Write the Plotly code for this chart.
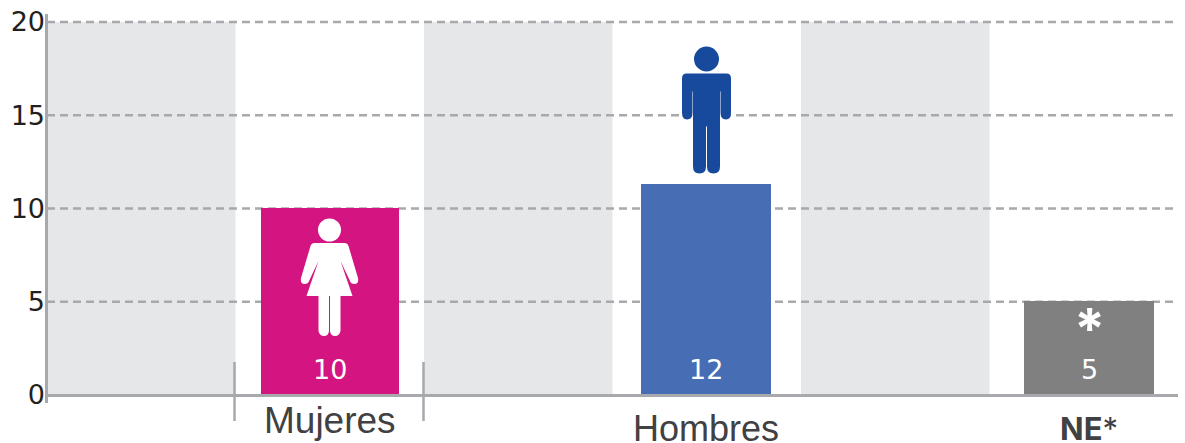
import plotly.graph_objects as go

categories = ["Mujeres", "Hombres", "NE*"]
values = [10.05, 11.3, 5.05]
value_labels = ["10", "12", "5"]
colors = ["#D41481", "#476DB5", "#808080"]
slots = [1, 3, 5]
band_slots = [0, 2, 4]
y_ticks = [0, 5, 10, 15, 20]

GREY = "#A7A9AC"
W, H = 1185, 443
ML, MR, MT, MB = 47, 7, 16, 48
Y_TOP = (H - MB - MT) / 18.65
SLOT = (W - ML - MR) / 6
bar_px = [138, 130, 130]
shift_px = [0, -1, 5.5]
widths = [b / SLOT for b in bar_px]
offsets = [(-b / 2 + s) / SLOT for b, s in zip(bar_px, shift_px)]

fig = go.Figure(go.Bar(
    x=slots, y=values, width=widths, offset=offsets,
    marker=dict(color=colors, line=dict(width=0)), hoverinfo="skip",
))

shapes = []
for s in band_slots:
    shapes.append(dict(type="rect", xref="x", yref="y", x0=s - 0.5, x1=s + 0.5, y0=0, y1=20,
                       fillcolor="#E6E7E8", line=dict(width=0), layer="between"))
for t in y_ticks[1:]:
    shapes.append(dict(type="line", xref="x", yref="y", x0=-0.5, x1=5.5, y0=t, y1=t,
                       line=dict(color=GREY, width=2.5, dash="8px,5px"), layer="between"))


def px_x(x):
    return (x - ML) / (W - ML - MR)


def px_y(y):
    return 1 - (y - MT) / (H - MT - MB)


def line_px(x0, y0, x1, y1, w=2.5):
    shapes.append(dict(type="line", xref="paper", yref="paper",
                       x0=px_x(x0), x1=px_x(x1), y0=px_y(y0), y1=px_y(y1),
                       line=dict(color=GREY, width=w), layer="above"))


line_px(46.5, 14, 46.5, 403, 3)
line_px(47, 395.5, W - MR, 395.5, 3)
line_px(234.5, 362, 234.5, 421)
line_px(423.5, 362, 423.5, 421)


def person_path(points, color, ax, ay):
    shapes.append(dict(type="path", xsizemode="pixel", ysizemode="pixel",
                       xref="paper", yref="paper", xanchor=px_x(ax), yanchor=px_y(ay),
                       path=" ".join(points), fillcolor=color, line=dict(width=0), layer="above"))


def head(cx, cy, r, color):
    shapes.append(dict(type="circle", xsizemode="pixel", ysizemode="pixel",
                       xref="paper", yref="paper", xanchor=px_x(cx), yanchor=px_y(cy),
                       x0=-r, x1=r, y0=-r, y1=r,
                       fillcolor=color, line=dict(width=0), layer="above"))


# Woman icon (pixel offsets from its shoulders, y upward)
head(329.5, 230, 11.5, "white")
person_path([
    "M -15 0", "L 15 0", "Q 18 0 19 -3", "L 28.5 -35", "Q 29.5 -41 25 -41", "Q 21 -41 20 -37",
    "L 11 -18", "L 23 -53", "L 11 -53", "L 11 -88", "Q 10 -93 5.5 -93", "Q 1 -93 0.5 -88",
    "L 0.5 -53", "L -0.5 -53", "L -0.5 -88", "Q -1 -93 -5.5 -93", "Q -10 -93 -11 -88",
    "L -11 -53", "L -23 -53", "L -11 -18", "L -20 -37", "Q -21 -41 -25 -41", "Q -29.5 -41 -28.5 -35",
    "L -19 -3", "Q -18 0 -15 0", "Z",
], "white", 329.5, 243)

# Man icon
head(706.5, 59, 12.5, "#174A9C")
person_path([
    "M -20 0", "L 20 0", "Q 24.5 0 24.5 -5", "L 24.5 -39", "Q 24.5 -46 19.5 -46", "Q 14 -46 14 -39",
    "L 14 -18", "L 13.5 -18", "L 13.5 -93", "Q 13.5 -100 7 -100", "Q 0.5 -100 0.5 -93",
    "L 0.5 -53", "L -0.5 -53", "L -0.5 -93", "Q -0.5 -100 -7 -100", "Q -13.5 -100 -13.5 -93",
    "L -13.5 -18", "L -14 -18", "L -14 -39", "Q -14 -46 -19.5 -46", "Q -24.5 -46 -24.5 -39",
    "L -24.5 -5", "Q -24.5 0 -20 0", "Z",
], "#174A9C", 706.5, 73.5)

annotations = []
for s, sh, lab in zip(slots, shift_px, value_labels):
    annotations.append(dict(x=s, y=0, xref="x", yref="y", text=lab, showarrow=False,
                            xshift=sh, yshift=26, font=dict(family="DejaVu Sans", size=27, color="white")))

label_fonts = [
    dict(family="Liberation Sans", size=37, color="#414042"),
    dict(family="Liberation Sans", size=36, color="#414042"),
    dict(family="Inter", size=31, color="#414042"),
]
label_yshift = [-25, -33, -33]
for s, sh, cat, f, ys in zip(slots, shift_px, categories, label_fonts, label_yshift):
    text = cat if cat != "NE*" else "<b>NE</b>*"
    annotations.append(dict(x=s, y=0, xref="x", yref="y", text=text, showarrow=False,
                            xshift=sh, yshift=ys, font=f))
annotations.append(dict(x=slots[2], y=values[2], xref="x", yref="y", text="<b>*</b>", showarrow=False,
                        xshift=shift_px[2], yshift=-28, font=dict(family="Inter", size=56, color="white")))

fig.update_layout(
    width=W, height=H, margin=dict(l=ML, r=MR, t=MT, b=MB),
    paper_bgcolor="white", plot_bgcolor="white", showlegend=False,
    shapes=shapes, annotations=annotations, bargap=0,
    xaxis=dict(range=[-0.5, 5.5], showgrid=False, zeroline=False, showline=False,
               showticklabels=False, ticks=""),
    yaxis=dict(range=[0, Y_TOP], tickvals=y_ticks, showgrid=False, zeroline=False, showline=False, ticks="",
               tickfont=dict(family="DejaVu Sans", size=27, color="#231F20"), ticklabelstandoff=1),
)

fig.write_html("out.html", config={"displayModeBar": False},
               post_script="document.body.style.margin='0';")
